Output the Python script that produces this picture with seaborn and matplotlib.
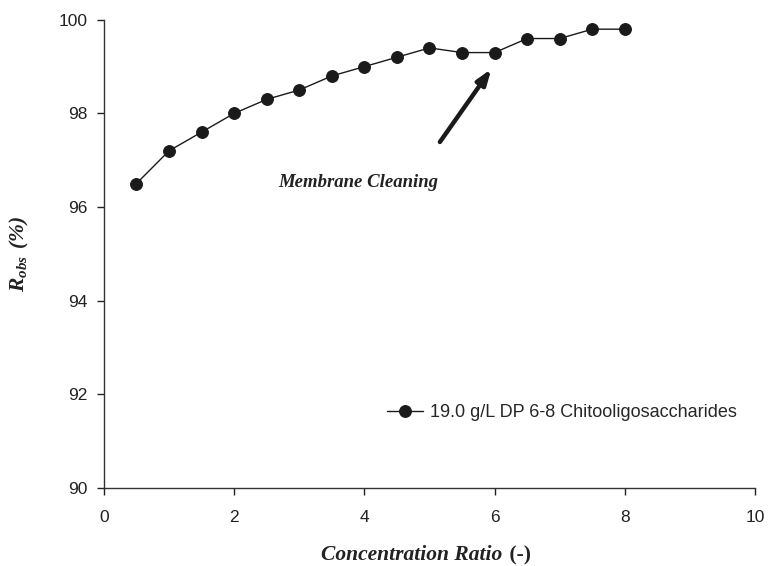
import numpy as np
import pandas as pd
import matplotlib
matplotlib.use("Agg")
import matplotlib.pyplot as plt
import seaborn as sns

# data
conc_ratio = [0.5, 1.0, 1.5, 2.0, 2.5, 3.0, 3.5, 4.0, 4.5, 5.0, 5.5, 6.0, 6.5, 7.0, 7.5, 8.0]
r_obs = [96.5, 97.2, 97.6, 98.0, 98.3, 98.5, 98.8, 99.0, 99.2, 99.4, 99.3, 99.3, 99.6, 99.6, 99.8, 99.8]
series_label = "19.0 g/L DP 6-8 Chitooligosaccharides"

df = pd.DataFrame({"Concentration Ratio": conc_ratio, "Robs": r_obs})

sns.set_style("ticks")
plt.rcParams["font.family"] = ["Liberation Sans", "DejaVu Sans"]
plt.rcParams["mathtext.fontset"] = "custom"
plt.rcParams["mathtext.bfit"] = "Liberation Serif:italic:bold"
plt.rcParams["mathtext.rm"] = "Liberation Serif:bold"

fig = plt.figure(figsize=(7.69, 5.66), dpi=100)
ax = fig.add_axes([0.135, 0.138, 0.847, 0.827])

sns.lineplot(data=df, x="Concentration Ratio", y="Robs", ax=ax, color="#1a1a1a",
             marker="o", markersize=8.5, markeredgecolor="#1a1a1a", linewidth=1,
             label=series_label)

ax.set_xlim(0, 10)
ax.set_ylim(90, 100)
ax.set_xticks(np.arange(0, 11, 2))
ax.set_yticks(np.arange(90, 101, 2))
ax.tick_params(direction="out", length=5, width=1, labelsize=12.5, colors="#222222")
ax.tick_params(axis="x", pad=11)
ax.tick_params(axis="y", pad=7)
for s in ["top", "right"]:
    ax.spines[s].set_visible(False)
for s in ["left", "bottom"]:
    ax.spines[s].set_linewidth(1)
    ax.spines[s].set_color("#333333")

serif = ["Liberation Serif", "DejaVu Serif"]
ax.set_xlabel("")
ax.set_ylabel("")
fig.text(0.653, 0.019, "Concentration Ratio", fontsize=15.5, fontweight="bold",
         fontstyle="italic", family=serif, ha="right", va="center", color="#222222")
fig.text(0.655, 0.019, " (-)", fontsize=15.5, fontweight="bold",
         family=serif, ha="left", va="center", color="#222222")
ax.text(-0.129, 0.5, r"$\mathbfit{R}_{\mathbfit{obs}}\ \mathbfit{(\%)}$", transform=ax.transAxes,
        rotation=90, fontsize=15.5, ha="center", va="center", color="#222222")

ax.annotate("", xy=(5.95, 98.95), xytext=(5.16, 97.39),
            arrowprops=dict(arrowstyle="-|>,head_length=0.9,head_width=0.32",
                            color="#1a1a1a", lw=3.2, shrinkA=0, shrinkB=0))
ax.text(3.9, 96.52, "Membrane Cleaning", fontsize=13.5, fontweight="bold",
        fontstyle="italic", family=serif, ha="center", va="center", color="#222222")

leg = ax.legend(loc="center left", bbox_to_anchor=(0.41, 0.16), frameon=False,
                fontsize=13, handlelength=2.0, handletextpad=0.4)

fig.savefig("out.png", dpi=100)
